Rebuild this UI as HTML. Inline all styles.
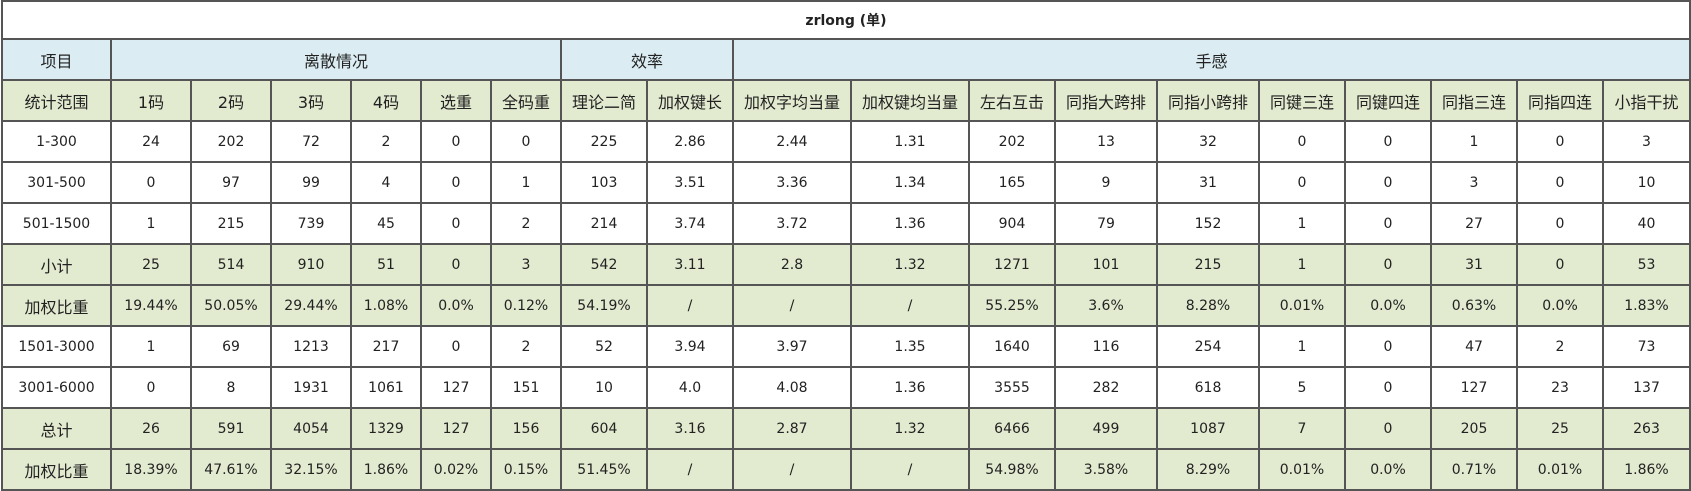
<!DOCTYPE html>
<html><head><meta charset="utf-8"><style>
body{margin:0;background:#fff;width:1691px;height:491px;overflow:hidden;font-family:"DejaVu Sans","Noto Sans CJK SC",sans-serif;}
#t{position:relative;width:1691px;height:491px;}
.c{position:absolute;box-sizing:border-box;border:2px solid #555;display:flex;align-items:center;justify-content:center;font-size:14px;color:#222;white-space:nowrap;}
.c.cjk{font-size:16px;}
</style></head><body>
<div id="t"></div>
<script>
const colX=[1,110,190,270,350,420,490,560,646,732,850,968,1054,1156,1258,1344,1430,1516,1602,1689];
const rowY=[0,38,79,120,161,202,243,284,325,366,407,448,491];
const title="zrlong (单)";
const groups=[["项目",0,1],["离散情况",1,7],["效率",7,9],["手感",9,19]];
const subHeader=["统计范围","1码","2码","3码","4码","选重","全码重","理论二简","加权键长","加权字均当量","加权键均当量","左右互击","同指大跨排","同指小跨排","同键三连","同键四连","同指三连","同指四连","小指干扰"];
const rows=[
["1-300","24","202","72","2","0","0","225","2.86","2.44","1.31","202","13","32","0","0","1","0","3"],
["301-500","0","97","99","4","0","1","103","3.51","3.36","1.34","165","9","31","0","0","3","0","10"],
["501-1500","1","215","739","45","0","2","214","3.74","3.72","1.36","904","79","152","1","0","27","0","40"],
["小计","25","514","910","51","0","3","542","3.11","2.8","1.32","1271","101","215","1","0","31","0","53"],
["加权比重","19.44%","50.05%","29.44%","1.08%","0.0%","0.12%","54.19%","/","/","/","55.25%","3.6%","8.28%","0.01%","0.0%","0.63%","0.0%","1.83%"],
["1501-3000","1","69","1213","217","0","2","52","3.94","3.97","1.35","1640","116","254","1","0","47","2","73"],
["3001-6000","0","8","1931","1061","127","151","10","4.0","4.08","1.36","3555","282","618","5","0","127","23","137"],
["总计","26","591","4054","1329","127","156","604","3.16","2.87","1.32","6466","499","1087","7","0","205","25","263"],
["加权比重","18.39%","47.61%","32.15%","1.86%","0.02%","0.15%","51.45%","/","/","/","54.98%","3.58%","8.29%","0.01%","0.0%","0.71%","0.01%","1.86%"]
];
const greenRows=[3,4,7,8];
const T=document.getElementById('t');
function cell(txt,c0,c1,r,bg,bold){
  const d=document.createElement('div');
  d.className='c';
  if(/[\u4e00-\u9fff]/.test(txt)&&!bold)d.classList.add('cjk');
  d.style.left=colX[c0]+'px';d.style.top=rowY[r]+'px';
  d.style.width=(colX[c1]-colX[c0]+2)+'px';d.style.height=(rowY[r+1]-rowY[r]+(r==rowY.length-2?0:2))+'px';
  d.style.background=bg;
  if(bold)d.style.fontWeight='bold';
  d.textContent=txt;
  
  
  T.appendChild(d);
  return d;
}
const t0=cell(title,0,19,0,'#fff',true);

groups.forEach(g=>{const e=cell(g[0],g[1],g[2],1,'#dbedf3',false);
});
subHeader.forEach((h,i)=>{const e=cell(h,i,i+1,2,'#e2ebd0',false);
});
rows.forEach((row,ri)=>{const bg=greenRows.includes(ri)?'#e2ebd0':'#fff';
row.forEach((v,ci)=>{cell(v,ci,ci+1,3+ri,bg,false);});});
</script>
</body></html>
